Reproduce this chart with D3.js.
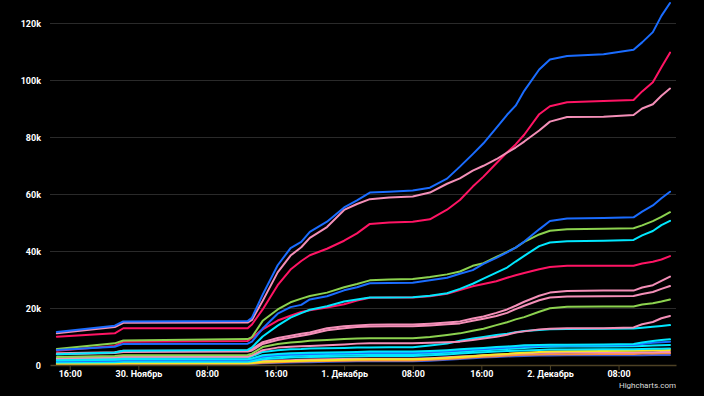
<html>
<head>
<meta charset="utf-8">
<title>Chart</title>
<script src="https://d3js.org/d3.v7.min.js"></script>
<style>
  body { margin: 0; background: #000; }
  svg text { font-family: Roboto, "Liberation Sans", sans-serif; }
</style>
</head>
<body>
<div id="chart"></div>
<script>
// time stamps of the samples
var times = [
  "2020-11-29 14:30", "2020-11-29 21:15", "2020-11-29 22:15", "2020-11-30 12:45",
  "2020-11-30 13:15", "2020-11-30 14:30", "2020-11-30 16:15", "2020-11-30 17:45",
  "2020-11-30 19:00", "2020-11-30 20:00", "2020-11-30 22:00", "2020-12-01 00:00",
  "2020-12-01 01:30", "2020-12-01 03:00", "2020-12-01 05:15", "2020-12-01 08:00",
  "2020-12-01 10:00", "2020-12-01 12:00", "2020-12-01 13:30", "2020-12-01 15:00",
  "2020-12-01 16:15", "2020-12-01 17:45", "2020-12-01 19:00", "2020-12-01 20:00",
  "2020-12-01 21:00", "2020-12-01 22:45", "2020-12-02 00:00", "2020-12-02 02:00",
  "2020-12-02 06:15", "2020-12-02 09:45", "2020-12-02 10:45", "2020-12-02 12:00",
  "2020-12-02 13:00", "2020-12-02 14:00"
];

// values in thousands
var blue1  = [11.6,13.8,15.3,15.4,16.6,24.7,35,41,43.2,46.7,50.3,55.3,57.8,60.5,60.8,61.2,62.2,65.4,69.6,74,77.8,83.2,87.8,91,96.2,103.7,107.2,108.4,109,110.6,113.2,116.8,122.5,127];
var pink1  = [11.1,13.3,14.8,14.9,15.8,22.5,32.5,38.4,41.3,44.6,48.4,54.4,56.5,58.2,58.8,59.1,60.5,63.6,65.5,68.2,69.9,72.2,74.5,76.3,78.4,82.3,85.4,87,87.1,87.7,90,91.5,94.5,97];
var red1   = [9.9,11.1,12.9,12.9,14.2,19.5,28,33.5,36.5,38.5,40.8,43.6,46.2,49.5,50,50.3,51.1,54.5,57.9,62.6,66.1,70.8,74.6,77.4,80.8,88,90.8,92.2,92.6,93,96,99.2,104.5,109.6];
var blue2  = [5.3,6.4,7.4,7.5,8.2,12.8,18,20.3,21.1,23,24.1,26.2,27.3,28.7,28.8,28.9,29.7,30.6,32,33.3,35.5,37.6,39.5,41.2,43.3,47.6,50.5,51.4,51.6,51.8,53.8,56,58.5,60.8];
var green1 = [5.6,7.6,8.6,9.1,9.8,15.5,19.5,22,23.3,24.2,25.4,27.3,28.4,29.7,30,30.2,30.9,31.8,32.8,34.8,35.7,37.9,39.7,41.2,43.2,45.8,47.1,47.6,47.8,48,49,50.5,52,53.6];
var cyan1  = [3.8,4.4,5,5.3,6.2,10,13.8,16.6,18.2,19.4,20.6,22.3,23,23.7,23.7,23.8,24.3,25.2,26.7,28.5,30.3,32.4,34.2,36.3,38.3,41.7,43,43.4,43.6,43.9,45.5,47,49.1,50.6];
var red2   = [5,6.7,8.2,8.4,9.6,12.5,15.6,17.3,18.6,19.2,20.2,21.3,22.6,23.6,23.7,23.7,24.1,25,26.3,27.6,28.4,29.4,30.6,31.5,32.3,33.6,34.4,34.8,34.8,34.8,35.6,36.2,37,38.2];
var pink2  = [4.1,4.5,5,5.1,5.6,8,9.5,10.3,11,11.4,12.9,13.6,13.9,14.1,14.2,14.2,14.5,14.9,15.3,16.3,17,18.3,19.5,20.8,22.2,24.3,25.4,26,26.1,26.1,27.2,28,29.5,31];
var pink3  = [3.8,4.2,4.6,4.7,5.1,7.4,8.8,9.6,10.3,10.8,12.2,12.9,13.3,13.5,13.6,13.6,13.9,14.3,14.6,15.5,16.2,17.2,18.3,19.6,20.8,22.7,23.7,24,24.1,24.2,24.9,25.6,26.7,27.7];
var green2 = [2.8,3.2,3.4,3.5,4,6.3,7.4,7.9,8.2,8.5,8.8,9.1,9.3,9.4,9.4,9.4,9.8,10.5,11.1,12,12.7,14,15,16,16.8,18.7,19.9,20.4,20.5,20.5,21.2,21.7,22.3,23];
var pink4  = [2.4,2.7,2.9,2.9,3.4,5.2,6.1,6.4,6.6,6.7,6.9,7.2,7.5,7.6,7.6,7.6,7.8,8,8.2,8.8,9.3,9.9,10.6,11.4,11.8,12.5,12.7,12.9,12.9,13.2,14.3,15.1,16.4,17.2];
var cyan2  = [2,2.3,2.5,2.6,3,4.6,5.2,5.5,5.6,5.8,5.9,6,6.1,6.1,6.2,6.2,6.8,7.5,8.5,9.3,9.8,10.5,11,11.5,11.9,12.3,12.5,12.6,12.7,12.8,13.1,13.4,13.7,14];
var cyan3  = [1.6,1.8,2,2,2.3,3.4,3.9,4.1,4.2,4.3,4.4,4.5,4.6,4.7,4.7,4.7,4.9,5.2,5.5,5.8,6,6.3,6.5,6.7,6.9,7,7.1,7.1,7.2,7.4,7.9,8.4,8.8,9];
var blue3  = [1.3,1.5,1.7,1.7,2,3,3.5,3.7,3.8,3.9,4,4.1,4.2,4.3,4.3,4.3,4.5,4.8,5.1,5.4,5.6,5.9,6.1,6.3,6.5,6.7,6.8,6.8,6.9,7,7.4,7.8,8,8.2];
var cyan4  = [1.1,1.3,1.4,1.4,1.7,2.6,3,3.2,3.3,3.4,3.5,3.6,3.7,3.8,3.8,3.8,4,4.3,4.6,4.9,5.1,5.4,5.6,5.8,6,6.3,6.4,6.5,6.5,6.6,6.7,6.8,6.9,7];
var cyan5  = [0.9,1,1.1,1.1,1.3,2,2.4,2.6,2.7,2.8,2.9,3,3.1,3.2,3.2,3.2,3.4,3.7,4,4.3,4.5,4.7,4.9,5,5.1,5.3,5.4,5.4,5.5,5.5,5.6,5.7,5.7,5.8];
var yellow = [0.4,0.5,0.6,0.6,0.7,1.1,1.3,1.4,1.5,1.6,1.7,1.8,1.9,2,2,2,2.2,2.5,2.8,3.1,3.4,3.7,3.9,4.1,4.3,4.6,4.7,4.8,4.9,5,5.1,5.2,5.2,5.3];
var pink5  = [0.6,0.7,0.8,0.8,0.9,1.4,1.6,1.7,1.8,1.9,2,2.1,2.2,2.2,2.2,2.2,2.4,2.7,3,3.2,3.4,3.6,3.8,4,4.1,4.3,4.3,4.4,4.4,4.4,4.5,4.5,4.6,4.6];
var orange = [0.3,0.35,0.4,0.4,0.5,0.8,1,1.1,1.2,1.3,1.4,1.5,1.6,1.6,1.6,1.6,1.8,2.1,2.4,2.7,2.9,3.1,3.3,3.5,3.6,3.7,3.8,3.8,3.9,3.9,4,4,4.1,4.1];
var navy   = [0.2,0.25,0.3,0.3,0.35,0.6,0.8,0.9,1,1,1.1,1.2,1.3,1.3,1.3,1.3,1.5,1.8,2.1,2.4,2.6,2.8,3,3.1,3.2,3.3,3.3,3.4,3.4,3.4,3.4,3.5,3.5,3.5];

var yTicks = [0, 20000, 40000, 60000, 80000, 100000, 120000];
var monthNames = ["Январь","Февраль","Март","Апрель","Май","Июнь","Июль","Август","Сентябрь","Октябрь","Ноябрь","Декабрь"];

// draw order: bottom ones first, big ones on top
var series = [
  {data: navy,   color: "#3a5bd9"},
  {data: orange, color: "#ff8f3a"},
  {data: pink5,  color: "#f48fb8"},
  {data: yellow, color: "#f5e623"},
  {data: cyan5,  color: "#00e8ff"},
  {data: cyan4,  color: "#00e8ff"},
  {data: blue3,  color: "#1a6cff"},
  {data: cyan3,  color: "#00e8ff"},
  {data: cyan2,  color: "#00e8ff"},
  {data: pink4,  color: "#f48fb8"},
  {data: green2, color: "#8cd24f"},
  {data: pink3,  color: "#f48fb8"},
  {data: pink2,  color: "#f48fb8"},
  {data: red2,   color: "#ff1464"},
  {data: cyan1,  color: "#00e8ff"},
  {data: green1, color: "#8cd24f"},
  {data: blue2,  color: "#1a6cff"},
  {data: red1,   color: "#ff1464"},
  {data: pink1,  color: "#f48fb8"},
  {data: blue1,  color: "#1a6cff"}
];

var parse = d3.timeParse("%Y-%m-%d %H:%M");
var dates = times.map(parse);

var width = 704, height = 396;
var margin = {left: 50, right: 28, top: 23, bottom: 31};

var svg = d3.select("#chart").append("svg")
    .attr("width", width)
    .attr("height", height)
    .style("background", "#000");

var x = d3.scaleTime()
    .domain([parse("2020-11-29 13:42"), parse("2020-12-02 14:42")])
    .range([margin.left, width - margin.right]);
var y = d3.scaleLinear()
    .domain([0, 120000])
    .range([height - margin.bottom, margin.top]);

// grid lines
svg.append("g").selectAll("line")
    .data(yTicks.slice(1))
    .enter().append("line")
    .attr("x1", margin.left)
    .attr("x2", width - margin.right)
    .attr("y1", function(d) { return y(d) + 0.5; })
    .attr("y2", function(d) { return y(d) + 0.5; })
    .attr("stroke", "#2a2a2a")
    .attr("stroke-width", 1);

// y labels
svg.append("g").selectAll("text")
    .data(yTicks)
    .enter().append("text")
    .attr("x", 41)
    .attr("y", function(d) { return y(d) + 3.5; })
    .attr("text-anchor", "end")
    .attr("fill", "#fff")
    .style("font-size", "9px")
    .style("font-weight", "bold")
    .text(function(d) { return d === 0 ? "0" : (d / 1000) + "k"; });

// lines
var line = d3.line()
    .x(function(d, i) { return x(dates[i]); })
    .y(function(d) { return y(d * 1000); });

svg.append("g").selectAll("path")
    .data(series)
    .enter().append("path")
    .attr("fill", "none")
    .attr("stroke", function(s) { return s.color; })
    .attr("stroke-width", 2)
    .attr("stroke-linejoin", "round")
    .attr("stroke-linecap", "round")
    .attr("d", function(s) { return line(s.data); });

// x axis
var xAxis = d3.axisBottom(x)
    .ticks(d3.timeHour.every(8))
    .tickSize(5)
    .tickSizeOuter(0)
    .tickFormat(function(d) {
        if (d.getHours() === 0) return d.getDate() + ". " + monthNames[d.getMonth()];
        return d3.timeFormat("%H:%M")(d);
    });

var gx = svg.append("g")
    .attr("transform", "translate(0," + (height - margin.bottom) + ")")
    .call(xAxis);
gx.select(".domain").attr("stroke", "#4d4124").attr("stroke-width", 1.5);
gx.selectAll(".tick line").attr("stroke", "#4d4124");
gx.selectAll(".tick text")
    .attr("fill", "#fff")
    .attr("y", 6)
    .attr("dy", "0.71em")
    .style("font-size", "9px")
    .style("font-weight", "bold");

// credits
svg.append("text")
    .attr("x", 676)
    .attr("y", 387.5)
    .attr("text-anchor", "end")
    .attr("fill", "#ddd")
    .style("font-size", "8px")
    .text("Highcharts.com");
</script>
</body>
</html>
